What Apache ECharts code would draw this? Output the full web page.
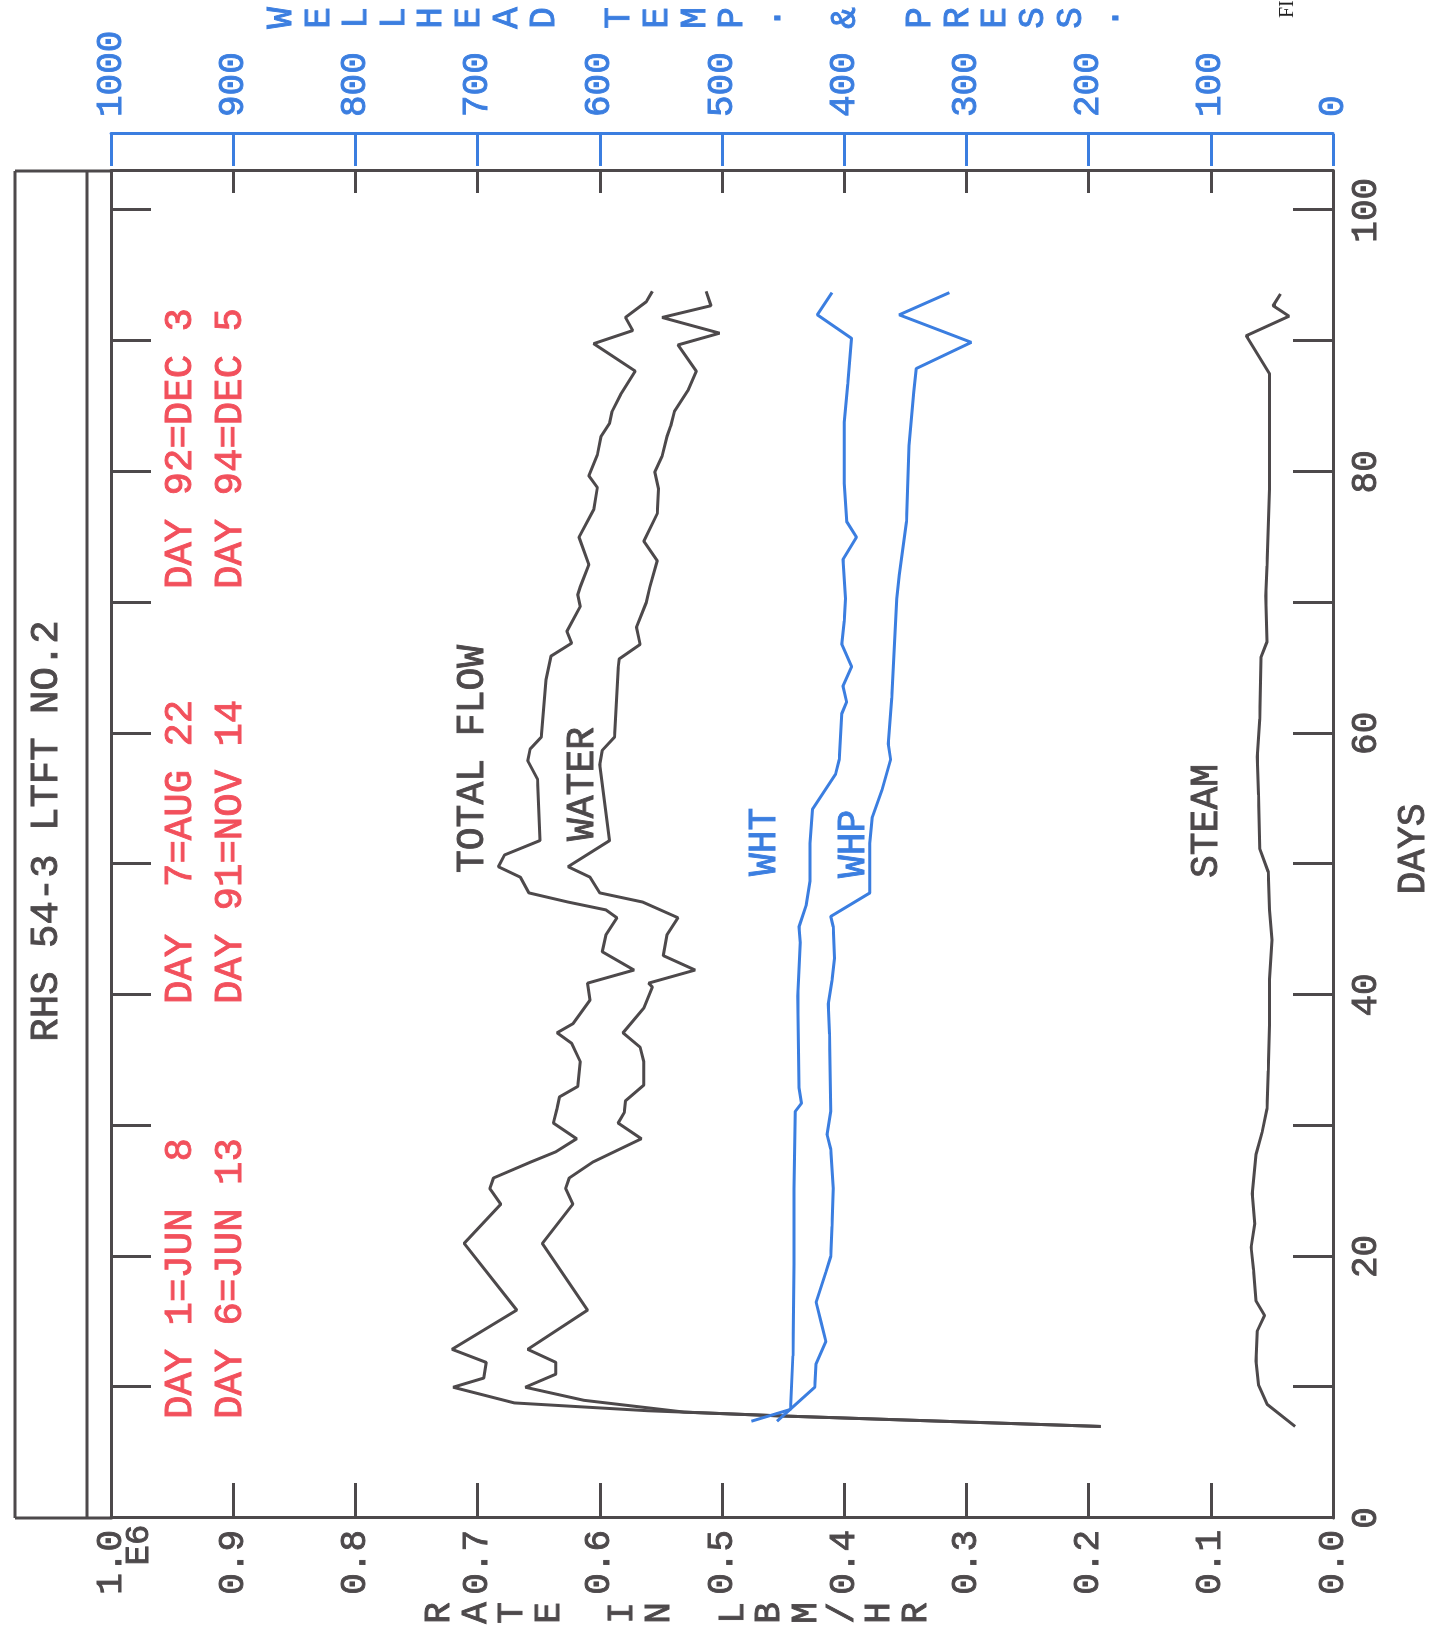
<!DOCTYPE html>
<html>
<head>
<meta charset="utf-8">
<script src="https://cdn.jsdelivr.net/npm/echarts@6/dist/echarts.min.js"></script>
<style>
html,body{margin:0;padding:0;background:#fff;overflow:hidden;width:1437px;height:1648px;}
#chart{position:absolute;left:0;top:0;width:1648px;height:1437px;transform-origin:0 0;transform:translateY(1648px) rotate(-90deg);background:#fff;}
</style>
</head>
<body>
<div id="chart"></div>
<script>
// ---- data: [day, value] ----
const totalFlow = [
[7.0,0.19],[7.8,0.45],[8.2,0.56],[8.8,0.67],[10.0,0.72],[10.7,0.695],[11.9,0.693],[12.9,0.721],[15.9,0.668],[21.0,0.711],[24.0,0.681],[25.2,0.690],[26.0,0.687],[27.2,0.657],[28.0,0.636],[29.0,0.619],[30.2,0.638],[31.3,0.635],[32.2,0.633],[33.0,0.618],[34.9,0.616],[36.3,0.623],[37.1,0.635],[37.8,0.622],[39.6,0.608],[40.9,0.610],[41.9,0.572],[43.3,0.598],[44.6,0.595],[45.9,0.586],[46.5,0.595],[47.1,0.626],[47.8,0.658],[49.0,0.665],[49.8,0.683],[50.7,0.678],[51.8,0.649],[56.5,0.651],[57.9,0.659],[58.8,0.657],[59.7,0.648],[64.1,0.644],[65.9,0.640],[66.9,0.623],[67.8,0.627],[69.7,0.616],[70.6,0.618],[71.2,0.616],[72.9,0.609],[75.0,0.617],[77.1,0.605],[78.8,0.602],[79.7,0.609],[81.3,0.602],[82.7,0.599],[83.7,0.592],[84.6,0.590],[85.9,0.583],[87.7,0.571],[89.8,0.605],[90.8,0.573],[91.8,0.579],[93.0,0.562],[93.8,0.557]
];
const water = [
[7.0,0.19],[7.8,0.45],[8.1,0.531],[9.0,0.613],[10.0,0.661],[11.0,0.636],[11.9,0.636],[12.9,0.659],[15.9,0.610],[21.0,0.647],[24.0,0.622],[25.2,0.628],[26.0,0.625],[27.2,0.606],[29.0,0.566],[30.2,0.585],[31.0,0.580],[31.9,0.579],[33.1,0.564],[34.9,0.564],[36.0,0.567],[37.1,0.581],[39.0,0.564],[40.6,0.557],[40.9,0.560],[41.9,0.522],[43.0,0.548],[44.6,0.545],[45.9,0.536],[47.1,0.565],[47.8,0.600],[49.0,0.608],[49.8,0.626],[51.8,0.592],[57.6,0.600],[58.7,0.598],[59.7,0.588],[65.0,0.585],[65.7,0.584],[66.8,0.567],[68.1,0.570],[70.0,0.562],[71.2,0.559],[73.2,0.553],[74.7,0.564],[76.8,0.553],[78.7,0.552],[80.0,0.555],[81.2,0.549],[82.7,0.545],[83.5,0.542],[84.6,0.539],[86.2,0.528],[87.7,0.521],[89.7,0.536],[90.6,0.502],[91.8,0.549],[92.7,0.509],[93.8,0.513]
];
const steam = [
[7.0,0.031],[8.7,0.054],[10.2,0.061],[12.0,0.063],[14.3,0.062],[15.5,0.056],[16.6,0.063],[19.0,0.065],[20.7,0.067],[22.5,0.064],[24.8,0.066],[27.8,0.063],[29.5,0.058],[31.3,0.054],[34.2,0.053],[37.7,0.052],[41.2,0.052],[44.2,0.050],[46.5,0.052],[49.4,0.053],[51.2,0.060],[55.3,0.061],[58.2,0.062],[61.1,0.060],[65.8,0.059],[67.0,0.054],[70.5,0.055],[72.8,0.054],[78.7,0.052],[82.8,0.052],[87.5,0.052],[90.4,0.071],[91.9,0.036],[92.7,0.049],[93.6,0.043]
];
const wht = [
[7.4,476],[8.3,444],[12.4,442],[19.4,441],[25.2,441],[31.1,440],[31.7,435],[32.9,437],[39.9,438],[44.0,436],[45.2,437],[46.9,431],[48.7,428],[51.6,428],[54.2,426],[56.9,407],[58.0,404],[61.5,402],[62.4,398],[63.6,401],[65.1,394],[66.8,402],[68.6,400],[70.3,399],[73.3,401],[75.0,390],[76.2,398],[79.1,400],[83.8,400],[86.7,397],[90.2,394],[92.0,422],[93.7,410]
];
const whp = [
[7.4,455],[10.0,424],[11.8,423],[13.5,415],[15.0,419],[16.5,423],[18.8,415],[20.0,411],[22.3,410],[25.2,409],[28.2,411],[29.3,414],[31.1,411],[37.0,412],[39.3,413],[41.1,410],[42.8,408],[45.2,409],[46.0,411],[47.8,379],[51.6,379],[53.6,377],[55.7,369],[58.0,362],[59.2,364],[62.7,361],[70.3,357],[72.1,355],[76.2,349],[82.0,347],[86.1,343],[87.9,341],[89.9,296],[92.0,355],[93.7,314]
];
const dayLabels = [0,20,40,60,80,100];
const titleText = 'RHS 54-3 LTFT NO.2';
const notesLine1 = ['DAY 1=JUN  8','DAY  7=AUG 22','DAY 92=DEC 3'];
const notesLine2 = ['DAY 6=JUN 13','DAY 91=NOV 14','DAY 94=DEC 5'];
const rateName = 'RATE IN LBM/HR';
const tpName = 'WELLHEAD TEMP. & PRESS.';

// ---- styling ----
const FONT = '"Liberation Mono","DejaVu Sans Mono",monospace';
const INK = '#4d494b';
const BLUE = '#3b7ee0';
const RED = '#f2505c';
const LW = 3;
const TB = 0.9; // text stroke to mimic plotter pen

const stack = s => s.split('').join('\n');
const txt = (text, x, y, color, size, align, extra) => ({
  type:'text', x:x, y:y, silent:true,
  style:Object.assign({text:text, fill:color, stroke:color, lineWidth:TB, font:size+'px '+FONT, textAlign:align||'left', textVerticalAlign:'middle'}, extra||{})
});
const ln = (x1,y1,x2,y2) => ({type:'line', silent:true, shape:{x1:x1,y1:y1,x2:x2,y2:y2}, style:{stroke:INK,lineWidth:LW}});

const chart = echarts.init(document.getElementById('chart'), null, {renderer:'canvas'});
const axisLineInk = {show:true, onZero:false, lineStyle:{color:INK, width:LW}};
const option = {
  animation:false,
  backgroundColor:'#ffffff',
  grid:{left:130, right:171, top:111, bottom:104, show:false},
  xAxis:[
    {type:'value', position:'bottom', min:0, max:103, interval:10,
     axisLine:axisLineInk,
     axisTick:{show:true, inside:true, length:40, lineStyle:{color:INK,width:LW}},
     axisLabel:{show:true, margin:15, color:INK, fontFamily:FONT, fontSize:36, textBorderColor:INK, textBorderWidth:TB,
       formatter:v => dayLabels.indexOf(Math.round(v))>=0 && Math.abs(v-Math.round(v))<1e-6 ? String(Math.round(v)) : ''},
     splitLine:{show:false}},
    {type:'value', position:'top', min:0, max:103, interval:10,
     axisLine:axisLineInk,
     axisTick:{show:true, inside:true, length:40, lineStyle:{color:INK,width:LW}},
     axisLabel:{show:false}, splitLine:{show:false}}
  ],
  yAxis:[
    {type:'value', position:'left', min:0, max:1, interval:0.1,
     axisLine:axisLineInk,
     axisTick:{show:true, inside:true, length:35, lineStyle:{color:INK,width:LW}},
     axisLabel:{show:true, margin:12, color:INK, fontFamily:FONT, fontSize:36, textBorderColor:INK, textBorderWidth:TB, formatter:v => v.toFixed(1)},
     splitLine:{show:false}},
    {type:'value', position:'right', min:0, max:1, interval:0.1,
     axisLine:axisLineInk,
     axisTick:{show:true, inside:true, length:22, lineStyle:{color:INK,width:LW}},
     axisLabel:{show:false}, splitLine:{show:false}},
    {type:'value', position:'right', offset:37, min:0, max:1000, interval:100,
     axisLine:{show:true, onZero:false, lineStyle:{color:BLUE, width:LW}},
     axisTick:{show:true, inside:true, length:32, lineStyle:{color:BLUE,width:LW}},
     axisLabel:{show:true, margin:17, color:BLUE, fontFamily:FONT, fontSize:36, textBorderColor:BLUE, textBorderWidth:TB, formatter:v => String(Math.round(v))},
     splitLine:{show:false}}
  ],
  series:[
    {name:'TOTAL FLOW', type:'line', xAxisIndex:0, yAxisIndex:0, data:totalFlow, symbol:'none', silent:true, lineStyle:{color:INK,width:3}},
    {name:'WATER', type:'line', xAxisIndex:0, yAxisIndex:0, data:water, symbol:'none', silent:true, lineStyle:{color:INK,width:3}},
    {name:'STEAM', type:'line', xAxisIndex:0, yAxisIndex:0, data:steam, symbol:'none', silent:true, lineStyle:{color:INK,width:3}},
    {name:'WHT', type:'line', xAxisIndex:0, yAxisIndex:2, data:wht, symbol:'none', silent:true, lineStyle:{color:BLUE,width:3}},
    {name:'WHP', type:'line', xAxisIndex:0, yAxisIndex:2, data:whp, symbol:'none', silent:true, lineStyle:{color:BLUE,width:3}}
  ],
  graphic:[
    ln(130,15,130,111), ln(1477,15,1477,111), ln(130,15,1477,15), ln(130,87,1477,87),
    txt(titleText, 817, 47, INK, 39, 'center'),
    txt(notesLine1[0], 229, 181, RED, 39), txt(notesLine2[0], 229, 231, RED, 39),
    txt(notesLine1[1], 644, 181, RED, 39), txt(notesLine2[1], 644, 231, RED, 39),
    txt(notesLine1[2], 1059, 181, RED, 39), txt(notesLine2[2], 1059, 231, RED, 39),
    txt('TOTAL FLOW', 775, 473, INK, 38),
    txt('WATER', 807, 583, INK, 38),
    txt('WHT', 772, 765, BLUE, 38),
    txt('WHP', 770, 854, BLUE, 38),
    txt('STEAM', 770, 1207, INK, 38),
    txt('DAYS', 799, 1414, INK, 38, 'center'),
    txt('E6', 103, 139, INK, 34, 'center'),
    txt(stack(rateName), 35, 678, INK, 36, 'center', {lineHeight:36.7}),
    txt(stack(tpName), 1630, 695, BLUE, 36, 'center', {lineHeight:37.6}),
    {type:'text', x:1630, y:1288, silent:true, style:{text:'FIG.', fill:'#222', font:'20px "Liberation Serif",serif', textAlign:'left', textVerticalAlign:'middle'}}
  ]
};
chart.setOption(option);
</script>
</body>
</html>
